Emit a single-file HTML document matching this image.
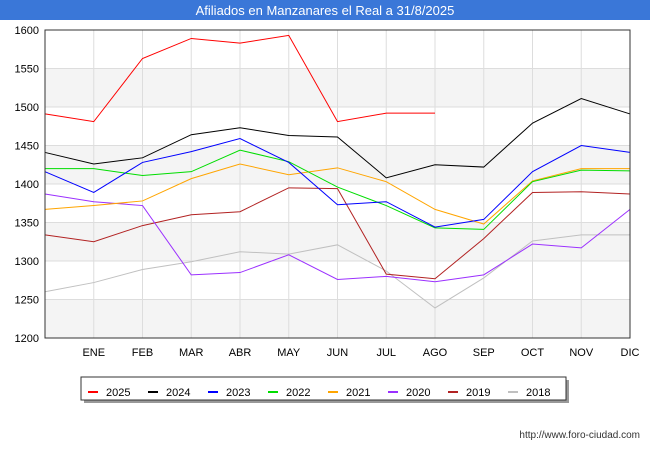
<!DOCTYPE html>
<html><head><meta charset="utf-8"><style>
body{margin:0;background:#fff;font-family:"Liberation Sans",sans-serif}
svg{display:block}
</style></head><body>
<svg id="c" width="650" height="450">
<rect x="0" y="0" width="650" height="20" fill="#3a77d8"/>
<text x="325" y="15" text-anchor="middle" fill="#fff" font-size="13">Afiliados en Manzanares el Real a 31/8/2025</text>
<g id="grid"></g><g id="lines"></g><g id="axes"></g>
<rect x="84" y="380" width="485" height="23" fill="#999"/>
<rect x="81" y="377" width="485" height="23" fill="#fff" stroke="#333"/>
<g id="legend"></g>
<text x="640" y="438" text-anchor="end" font-size="10" fill="#333">http://www.foro-ciudad.com</text>
</svg>
<script>
const months=["","ENE","FEB","MAR","ABR","MAY","JUN","JUL","AGO","SEP","OCT","NOV","DIC"];
const yTicks=[1200,1250,1300,1350,1400,1450,1500,1550,1600];
const years=["2025","2024","2023","2022","2021","2020","2019","2018"];
const colors=["#ff0000","#000000","#0000ff","#00dd00","#ffa500","#9b30ff","#b22222","#c0c0c0"];
const s2025=[1491,1481,1563,1589,1583,1593,1481,1492,1492];
const s2024=[1441,1426,1434,1464,1473,1463,1461,1408,1425,1422,1479,1511,1491];
const s2023=[1416,1389,1428,1442,1459,1428,1373,1377,1344,1354,1416,1450,1441];
const s2022=[1420,1420,1411,1416,1444,1429,1396,1372,1343,1341,1403,1418,1417];
const s2021=[1367,1372,1378,1407,1426,1412,1421,1403,1367,1348,1404,1420,1420];
const s2020=[1387,1377,1372,1282,1285,1308,1276,1280,1273,1282,1322,1317,1367];
const s2019=[1334,1325,1346,1360,1364,1395,1394,1283,1277,1329,1389,1390,1387];
const s2018=[1260,1272,1289,1299,1312,1309,1321,1287,1239,1278,1326,1334,1334];
const series=[s2025,s2024,s2023,s2022,s2021,s2020,s2019,s2018];
const X0=45,X1=630,Y0=338,Y1=30,ymin=1200,ymax=1600;
const xs=i=>X0+i*(X1-X0)/12;
const ys=v=>Y0-(v-ymin)/(ymax-ymin)*(Y0-Y1);
const NS="http://www.w3.org/2000/svg";
function mk(t,a,p){const e=document.createElementNS(NS,t);for(const k in a)e.setAttribute(k,a[k]);p.appendChild(e);return e;}
const G=document.getElementById('grid'),L=document.getElementById('lines'),A=document.getElementById('axes'),LG=document.getElementById('legend');
for(let i=0;i<yTicks.length-1;i+=2){
 const r=mk('rect',{x:X0,y:ys(yTicks[i+1]),width:X1-X0,height:ys(yTicks[i])-ys(yTicks[i+1]),fill:"#f4f4f4"},G);
 
 
}
yTicks.forEach(v=>{
 const l=mk('line',{x1:X0,x2:X1,y1:ys(v),y2:ys(v),stroke:"#ddd"},G);
 
 
 const t=mk('text',{x:X0-6,y:ys(v)+4,"text-anchor":"end","font-size":"11",fill:"#000"},A);t.textContent=v;
 
 
});
months.forEach((m,i)=>{
 if(i>0){const l=mk('line',{x1:xs(i),x2:xs(i),y1:Y1,y2:Y0,stroke:"#ddd"},G);
 
 }
 const t=mk('text',{x:xs(i),y:Y0+18,"text-anchor":"middle","font-size":"11",fill:"#000"},A);t.textContent=m;
 
 
});
const fr=mk('rect',{x:X0,y:Y1,width:X1-X0,height:Y0-Y1,fill:"none",stroke:"#333"},A);


for(let k=series.length-1;k>=0;k--){
 const pts=series[k].map((v,i)=>xs(i)+","+ys(v)).join(" ");
 const p=mk('polyline',{points:pts,fill:"none",stroke:colors[k],"stroke-width":1},L);
 
 
}
years.forEach((y,k)=>{
 const x=88+k*60;
 const l=mk('line',{x1:x,x2:x+10,y1:392,y2:392,stroke:colors[k],"stroke-width":2},LG);
 
 
 const t=mk('text',{x:x+18,y:396,"font-size":"11",fill:"#000"},LG);t.textContent=y;
 
 
});
</script>
</body></html>
